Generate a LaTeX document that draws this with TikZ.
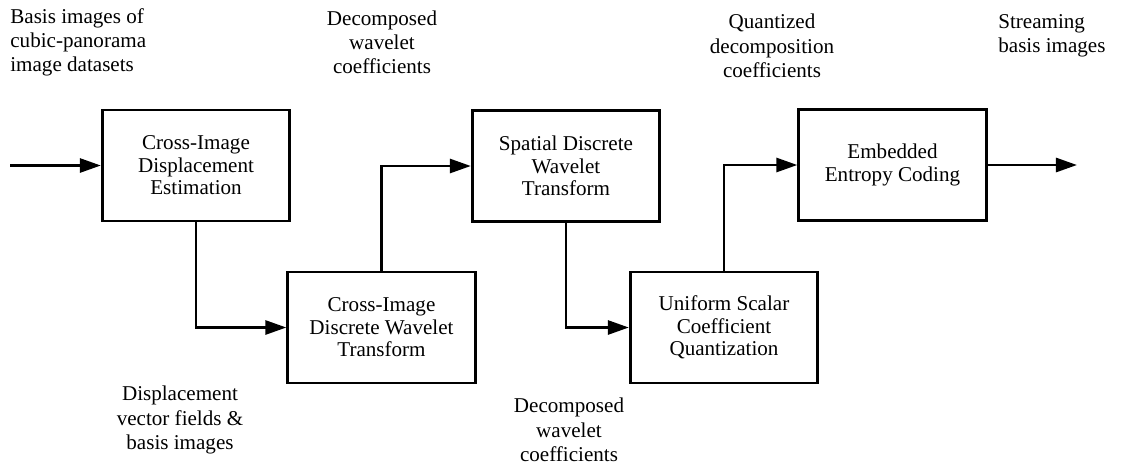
\documentclass[tikz,border=0pt]{standalone}
\usepackage{fontspec}
\setmainfont{LiberationSerif}[Extension=.ttf,UprightFont=*-Regular,BoldFont=*-Bold,ItalicFont=*-Italic]
\usetikzlibrary{arrows.meta}
\tikzset{
  block/.style={draw,rectangle,line width=1.6pt,minimum width=3.75cm,minimum height=2.22cm,
    align=center,font=\fontsize{12}{12.8}\selectfont},
  lbl/.style={align=center,font=\fontsize{12}{13.8}\selectfont,inner sep=0pt},
  flow/.style={line width=1.6pt,-{Triangle[length=12pt,width=8pt]}}
}
\begin{document}
\begin{tikzpicture}[x=0.02cm,y=-0.02cm]
\useasboundingbox (0,0) rectangle (1127,464);
\node[block] (DE) at (196,165.5) {Cross-Image\\Displacement\\Estimation};
\node[block] (CDWT) at (381.5,327.5) {Cross-Image\\Discrete Wavelet\\Transform};
\node[block] (SDWT) at (566,166) {Spatial Discrete\\Wavelet\\Transform};
\node[block] (USQ) at (724,327.5) {Uniform Scalar\\Coefficient\\Quantization};
\node[block] (EEC) at (892.5,165) {Embedded\\Entropy Coding};
\coordinate (I) at (10,165.5);
\coordinate (O) at (1077,165);
\draw[flow] (I) -- (DE.west);
\draw[flow] (DE.south) |- (CDWT.west);
\draw[flow] (CDWT.north) |- (SDWT.west);
\draw[flow] (SDWT.south) |- (USQ.west);
\draw[flow] (USQ.north) |- (EEC.west);
\draw[flow] (EEC.east) -- (O);
% signal labels
\node[lbl,align=left,anchor=west] (Lin) at (10,42.5) {Basis images of\\cubic-panorama\\image datasets};
\node[lbl] (Lwav) at (382,42.5) {Decomposed\\wavelet\\coefficients};
\node[lbl] (Lquant) at (772,46) {Quantized\\decomposition\\coefficients};
\node[lbl,align=left,anchor=west] (Lout) at (998,36) {Streaming\\basis images};
\node[lbl] (Ldisp) at (180,420) {Displacement\\vector fields \&\\basis images};
\node[lbl] (Lwav2) at (569,430) {Decomposed\\wavelet\\coefficients};
\end{tikzpicture}
\end{document}
